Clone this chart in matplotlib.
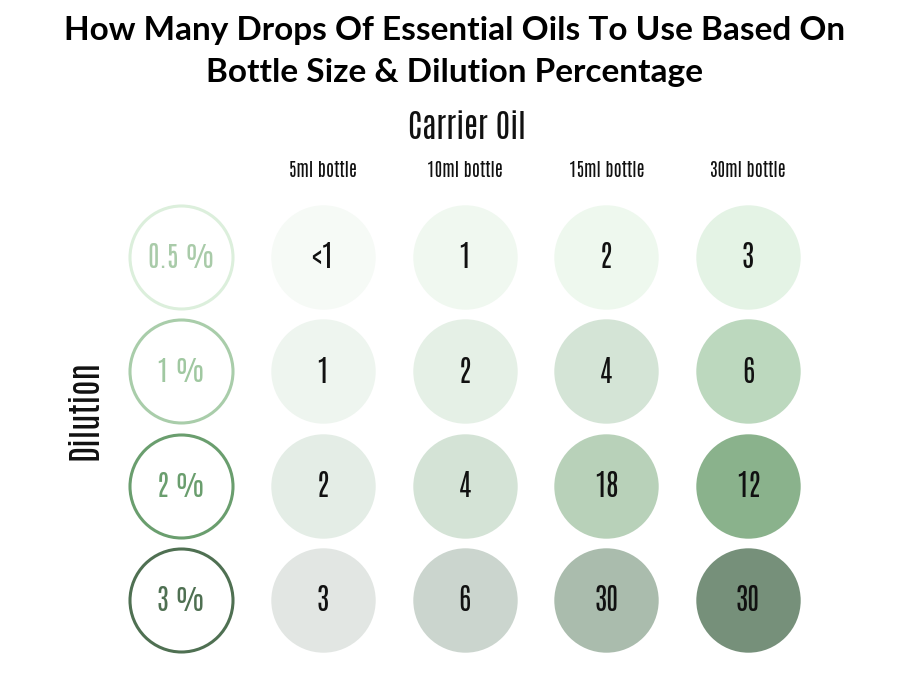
import matplotlib
matplotlib.use("Agg")
import matplotlib.pyplot as plt
from matplotlib import font_manager
from matplotlib.font_manager import FontProperties

title = "How Many Drops Of Essential Oils To Use Based On\nBottle Size & Dilution Percentage"
col_header = "Carrier Oil"
row_header = "Dilution"
bottles = ["5ml bottle", "10ml bottle", "15ml bottle", "30ml bottle"]
dilutions = ["0.5 %", "1 %", "2 %", "3 %"]
drops = [
    ["<1", "1", "2", "3"],
    ["1", "2", "4", "6"],
    ["2", "4", "18", "12"],
    ["3", "6", "30", "30"],
]
ring_colors = ["#dcefdc", "#a9cdaa", "#6a9e6e", "#4f7052"]
label_colors = ["#a9cba9", "#a0c8a1", "#6a9e6e", "#4f7052"]
cell_colors = [
    ["#f6faf6", "#f0f8f0", "#eef8ee", "#e4f3e5"],
    ["#eef5ef", "#e5f0e6", "#d4e4d6", "#bcd8be"],
    ["#e4ede6", "#d4e3d6", "#b8d1b9", "#8ab28c"],
    ["#e2e6e3", "#cbd5ce", "#aabcad", "#76907a"],
]

ttf = font_manager.fontManager.ttflist
def pick(prefs, target, style="normal"):
    for p in prefs:
        cands = [f for f in ttf if f.name == p and f.style == style]
        if not cands:
            continue
        best = min(cands, key=lambda f: abs(int(f.weight) - target))
        if abs(int(best.weight) - target) <= 150:
            return FontProperties(fname=best.fname)
    return FontProperties(family="DejaVu Sans")

cond_fp = pick(["Antonio", "Oswald", "Pathway Gothic One", "League Gothic", "Fjalla One",
                "Roboto Condensed"], 300)
title_fp = pick(["Raleway", "Montserrat", "Lato"], 700)

def fp(base, size):
    p = base.copy()
    p.set_size(size)
    return p

fig = plt.figure(figsize=(9, 6.75), dpi=100)
ax = fig.add_axes([0, 0, 1, 1])
ax.set_xlim(-1.277, 5.072)
ax.set_ylim(3.657, -2.248)
ax.axis("off")

# dilution rings
for j, lab in enumerate(dilutions):
    ax.scatter([0], [j], s=5500, facecolor="white", edgecolor=ring_colors[j],
               linewidth=2.2, zorder=2)
    ax.text(0, j, lab, ha="center", va="center", color=label_colors[j],
            fontproperties=fp(cond_fp, 20), zorder=3)

# drop circles
for j in range(len(dilutions)):
    for i in range(len(bottles)):
        ax.scatter([i + 1], [j], s=5650, color=cell_colors[j][i], linewidth=0, zorder=2)
        ax.text(i + 1, j, drops[j][i], ha="center", va="center",
                color="#111111", fontproperties=fp(cond_fp, 21), zorder=3)

for i, b in enumerate(bottles):
    ax.text(i + 1, -0.76, b, ha="center", va="center", color="#111111",
            fontproperties=fp(cond_fp, 13))

ax.text(2.02, -1.14, col_header, ha="center", va="center", color="#111111",
        fontproperties=fp(cond_fp, 23))
ax.text(-0.68, 1.34, row_header, ha="center", va="center", color="#111111",
        rotation=90, fontproperties=fp(cond_fp, 25))

fig.text(0.505, 0.9237, title, ha="center", va="center", fontproperties=fp(title_fp, 24),
         linespacing=1.55, color="#000000")

fig.savefig("out.png", dpi=100)
